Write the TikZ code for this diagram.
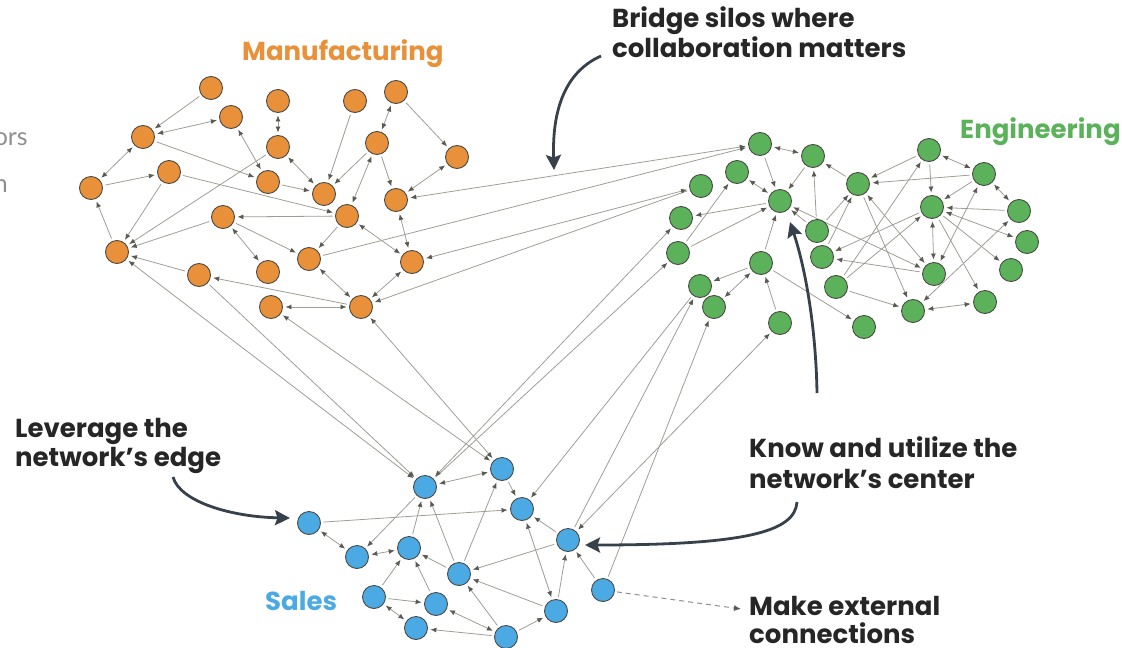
\documentclass[tikz,border=0pt]{standalone}
\usepackage{fontspec}
\setmainfont{Lato}
\newfontfamily\labelfont{Poppins}
\usetikzlibrary{arrows.meta,backgrounds}
\definecolor{mfg}{HTML}{E8913A}
\definecolor{eng}{HTML}{5CB25A}
\definecolor{sal}{HTML}{4BA9E3}
\definecolor{link}{HTML}{9E9E96}
\definecolor{tip}{HTML}{5A5A52}
\definecolor{rim}{HTML}{4A4A44}
\definecolor{callout}{HTML}{36414C}
\definecolor{ink}{HTML}{262626}
\definecolor{faded}{HTML}{8F8F8F}

\begin{document}
\begin{tikzpicture}[x=1pt,y=-1pt,
  person/.style={circle,draw=rim,line width=0.9pt,minimum size=23pt,inner sep=0pt},
  mnode/.style={person,fill=mfg},
  enode/.style={person,fill=eng},
  snode/.style={person,fill=sal},
  tie/.style={draw=link,line width=0.8pt,shorten >=2.5pt,shorten <=2.5pt},
  one/.style={tie,-{Latex[length=6pt,width=5pt,color=tip]}},
  two/.style={tie,{Latex[length=6pt,width=5pt,color=tip]}-{Latex[length=6pt,width=5pt,color=tip]}},
  note/.style={inner sep=0pt,anchor=base west,text=ink,font=\labelfont\fontsize{26}{30}\selectfont\bfseries},
  group/.style={inner sep=0pt,anchor=base west,font=\labelfont\fontsize{26}{30}\selectfont\bfseries},
  bigarrow/.style={draw=callout,line width=2.8pt,-{Stealth[length=15pt,width=15pt,inset=2.5pt]}},
]
\useasboundingbox (0,0) rectangle (1122,648);

% Manufacturing
\foreach \n/\x/\y in {o1/211/88,o2/231/117,o3/143/137,o4/278/101,o5/355/101,o6/396/92,
  o7/278/147,o8/377/143,o9/457/157,o10/91/188,o11/169/172,o12/268/182,o13/324/194,
  o14/396/200,o15/347/216,o16/223/217,o17/117/252,o18/309/259,o19/412/262,
  o20/199/275,o21/268/272,o22/271/307,o23/361/307}
  \node[mnode] (\n) at (\x,\y) {};

% Engineering
\foreach \n/\x/\y in {g1/760/144,g2/813/156,g3/737/172,g4/701/186,g5/780/201,
  g6/858/184,g7/929/150,g8/984/174,g9/932/207,g10/681/218,g11/817/231,
  g12/1019/211,g13/1027/242,g14/678/253,g15/822/257,g16/761/263,g17/934/274,
  g18/1011/270,g19/836/287,g20/700/286,g21/714/307,g22/985/302,g23/913/311,
  g24/780/323,g25/864/327}
  \node[enode] (\n) at (\x,\y) {};

% Sales
\foreach \n/\x/\y in {b1/425/487,b2/502/469,b3/522/509,b4/309/523,b5/568/540,
  b6/357/557,b7/409/548,b8/459/574,b9/374/597,b10/436/604,b11/603/590,
  b12/556/611,b13/416/628,b14/506/637}
  \node[snode] (\n) at (\x,\y) {};

\begin{scope}[on background layer]
  % one-way ties
  \foreach \a/\b in {o1/o3,o3/o12,o7/o17,o5/o13,o6/o9,o8/o13,o8/o14,o10/o11,
    o11/o15,o11/o17,o17/o10,o12/o13,o15/o16,o16/o17,o16/o18,o15/o18,o20/o17,
    o23/o20,o18/g1,g4/o23,o20/b1,b1/g14,g20/b3,b5/g20,b11/g21,
    g1/g5,g2/g5,g5/g10,g6/g2,g11/g2,g11/g5,g14/g3,g14/g5,g16/g5,g7/g6,g8/g6,
    g7/g9,g8/g9,g12/g9,g11/g6,g15/g6,g6/g23,g9/g15,g17/g15,g19/g7,g19/g9,
    g19/g23,g9/g18,g9/g22,g16/g20,g24/g16,g16/g25,
    b1/b6,b7/b1,b8/b1,b2/b3,b8/b2,b4/b3,b8/b7,b9/b7,b10/b7,b5/b3,b5/b8,
    b12/b5,b11/b5,b12/b8,b14/b8,b14/b12,b9/b10,b14/b13}
    \draw[one] (\a) -- (\b);
  % mutual ties
  \foreach \a/\b in {o3/o2,o4/o7,o2/o12,o7/o13,o6/o8,o8/o15,o9/o14,o10/o3,
    o16/o21,o15/o19,o14/o19,o18/o23,o19/o23,o22/o23,o14/g1,o19/g4,o17/b1,
    o22/b2,o23/b2,g10/b1,g24/b5,g1/g2,g3/g5,g5/g17,g7/g8,g8/g12,g9/g13,
    g6/g17,g9/g17,g8/g17,g23/g22,g12/g23,g16/g21,
    b1/b2,b4/b6,b6/b7,b3/b12,b9/b13,b10/b14}
    \draw[two] (\a) -- (\b);
\end{scope}

% group names
\node[group,text=mfg] (mfglabel) at (242,60) {Manufacturing};
\node[group,text=eng] (englabel) at (960,138) {Engineering};
\node[group,text=sal] (salelabel) at (265,610) {Sales};

% side text
\node[inner sep=0pt,anchor=base east,text=faded,font=\fontsize{25}{30}\selectfont] (sidea) at (28,145) {ors};
\node[inner sep=0pt,anchor=base east,text=faded,font=\fontsize{25}{30}\selectfont] (sideb) at (8,192) {n};

% callouts
\node[note] (bridgea) at (612,27) {Bridge silos where};
\node[note] (bridgeb) at (612,57) {collaboration matters};
\node[note] (edgea) at (15,437) {Leverage the};
\node[note] (edgeb) at (15,466) {network’s edge};
\node[note] (centera) at (749,457) {Know and utilize the};
\node[note] (centerb) at (749,488) {network’s center};
\node[note] (exta) at (749,615) {Make external};
\node[note] (extb) at (749,643) {connections};

\coordinate (bridgetail) at (601,56);
\coordinate (bridgetip) at (554,170);
\coordinate (edgetail) at (173,477);
\coordinate (edgetip) at (290,518);
\coordinate (centertail) at (797,502);
\coordinate (centertip) at (585,545);
\coordinate (hubtail) at (817,393);
\coordinate (hubtip) at (790,222);
\coordinate (exttip) at (741,609);

\draw[bigarrow] (bridgetail) .. controls (565,72) and (552,110) .. (bridgetip);
\draw[bigarrow] (edgetail) .. controls (180,502) and (232,517) .. (edgetip);
\draw[bigarrow] (centertail) .. controls (795,532) and (745,545) .. (centertip);
\draw[bigarrow] (hubtail) .. controls (816,330) and (806,270) .. (hubtip);

\draw[draw=faded,line width=1pt,dash pattern=on 5pt off 4pt,
  -{Latex[length=7pt,width=6pt,color=tip]},shorten <=2pt] (b11) -- (exttip);
\end{tikzpicture}
\end{document}
